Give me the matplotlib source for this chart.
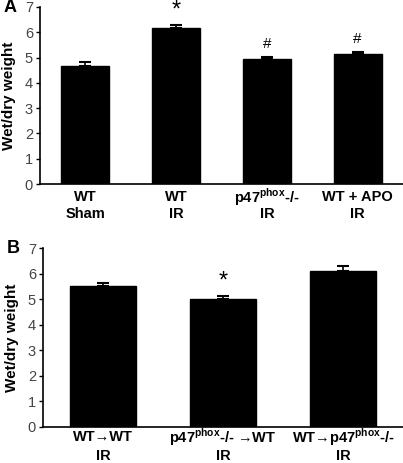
import matplotlib
matplotlib.use("Agg")
import matplotlib.pyplot as plt
from matplotlib.transforms import blended_transform_factory

plt.rcParams['font.family'] = ['Liberation Sans', 'DejaVu Sans']
plt.rcParams['mathtext.fontset'] = 'custom'
plt.rcParams['mathtext.rm'] = 'Liberation Sans:bold'
plt.rcParams['mathtext.bf'] = 'Liberation Sans:bold'

# Panel A data
cats_a = ["WT", "WT", "p47$^{\\rm phox}$-/-", "WT + APO"]
sub_a = ["Sham", "IR", "IR", "IR"]
vals_a = [4.66, 6.15, 4.93, 5.13]
errs_a = [0.18, 0.14, 0.10, 0.09]
marks_a = ["", "*", "#", "#"]

# Panel B data
cats_b = ["WT\u2192WT", "p47$^{\\rm phox}$-/- \u2192WT", "WT\u2192p47$^{\\rm phox}$-/-"]
sub_b = ["IR", "IR", "IR"]
vals_b = [5.52, 5.03, 6.12]
errs_b = [0.10, 0.10, 0.17]
marks_b = ["", "*", ""]

yticks = [0, 1, 2, 3, 4, 5, 6, 7]

W, H = 403, 463
fig = plt.figure(figsize=(W / 100, H / 100), dpi=100)

axA = fig.add_axes([40 / W, (H - 184) / H, 363 / W, 177 / H])
axB = fig.add_axes([43 / W, (H - 426.7) / H, 360 / W, 178.4 / H])


def draw(ax, cats, subs, vals, errs, marks, width, label, y1, y2):
    x = list(range(len(cats)))
    ax.bar(x, vals, width=width, color="black", edgecolor="black")
    ax.errorbar(x, vals, yerr=[[0] * len(errs), errs], fmt="none",
                ecolor="black", elinewidth=1.2, capsize=4, capthick=1.5)
    for xi, v, e, m in zip(x, vals, errs, marks):
        if m == "*":
            ax.text(xi, v + e + 0.12, m, ha="center", va="bottom",
                    fontsize=17, color="black")
        elif m:
            ax.text(xi, v + e + 0.22, m, ha="center", va="bottom",
                    fontsize=11, color="black")
    ax.set_xlim(-0.5, len(cats) - 0.5)
    ax.set_ylim(0, 7)
    ax.set_yticks(yticks)
    ax.set_yticklabels([str(t) for t in yticks], fontsize=10.5, color="#444444")
    ax.tick_params(axis="y", direction="out", length=3, width=1, pad=2)
    ax.set_xticks([])
    tr = blended_transform_factory(ax.transData, fig.transFigure)
    for xi, c, s in zip(x, cats, subs):
        ax.text(xi, 1 - y1 / H, c, transform=tr, ha="center", va="center",
                fontsize=10.5, fontweight="bold")
        ax.text(xi, 1 - y2 / H, s, transform=tr, ha="center", va="center",
                fontsize=10.5, fontweight="bold")
    for s in ["top", "right"]:
        ax.spines[s].set_visible(False)
    for s in ["left", "bottom"]:
        ax.spines[s].set_linewidth(1.2)
        ax.spines[s].set_color("black")
    ax.set_ylabel("Wet/dry weight", fontsize=11, fontweight="bold", labelpad=6)
    ax.text(-0.1, 1.0, label, transform=ax.transAxes, fontsize=13,
            fontweight="bold", ha="left", va="center")


draw(axA, cats_a, sub_a, vals_a, errs_a, marks_a, 0.53, "A", 197, 214)
draw(axB, cats_b, sub_b, vals_b, errs_b, marks_b, 0.55, "B", 437, 456)

fig.savefig("out.png", dpi=100)
